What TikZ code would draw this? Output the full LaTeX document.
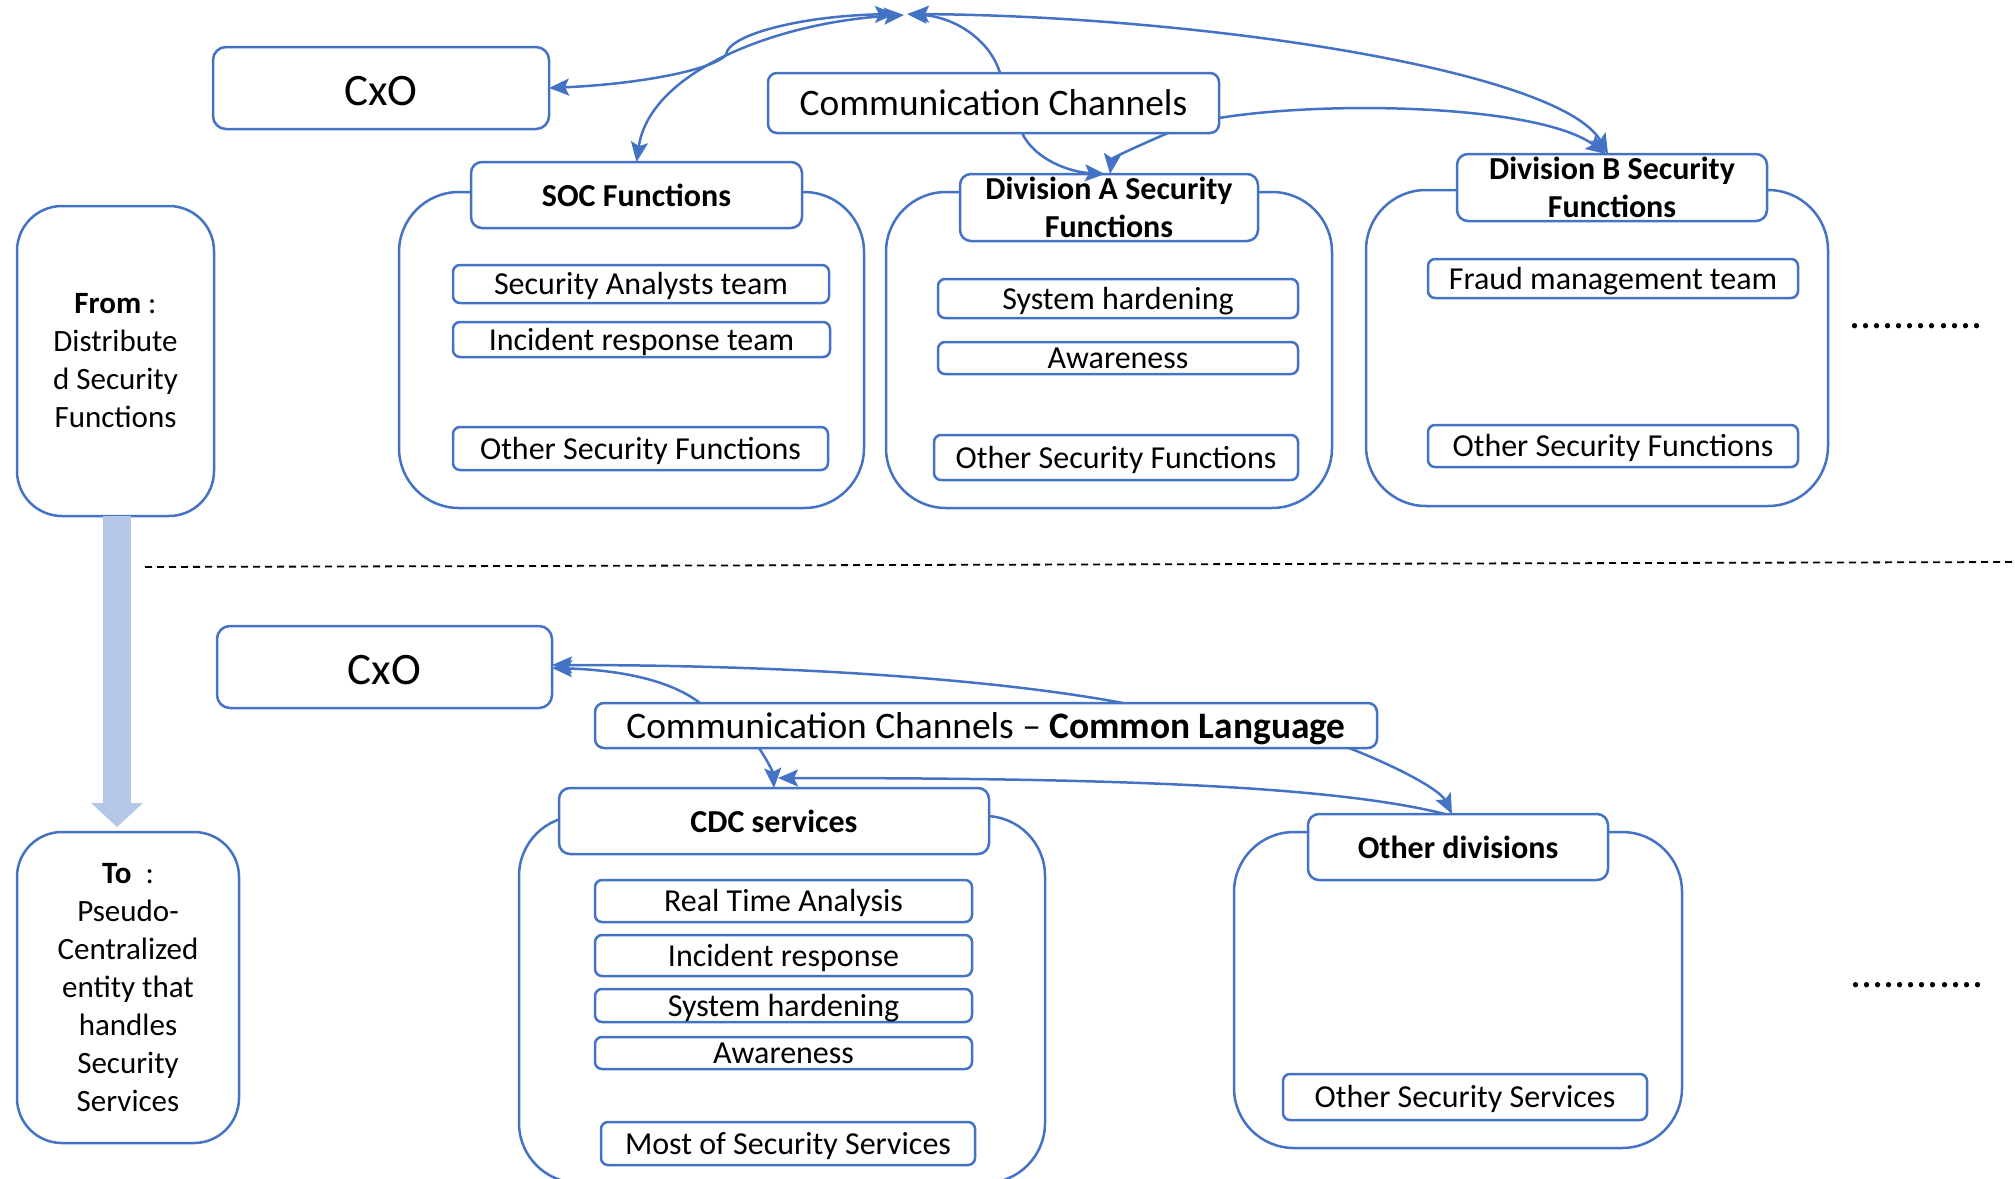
\documentclass[tikz,border=0pt]{standalone}
\usepackage{fontspec}
\setmainfont{Carlito}
\usetikzlibrary{arrows.meta}
\definecolor{edgeblue}{HTML}{4472C4}
\definecolor{flowblue}{HTML}{B4C7E7}
\tikzset{
  every node/.style={inner sep=0pt, outer sep=0pt},
  >={Stealth[length=20pt,width=17pt,inset=4pt]},
  cpanel/.style={draw=edgeblue, line width=2.5pt, rounded corners=60pt, fill=white},
  sidebox/.style={draw=edgeblue, line width=2.5pt, rounded corners=45pt, fill=white,
    align=center, font=\fontsize{31}{38}\selectfont},
  chead/.style={draw=edgeblue, line width=2.5pt, rounded corners=11pt, fill=white,
    align=center, font=\fontsize{32}{37.5}\selectfont\bfseries},
  citem/.style={draw=edgeblue, line width=2.5pt, rounded corners=7pt, fill=white,
    font=\fontsize{32}{38}\selectfont, text height=26.4pt, text depth=4.6pt},
  crole/.style={draw=edgeblue, line width=2.5pt, rounded corners=13pt, fill=white,
    font=\fontsize{45}{54}\selectfont, text height=38pt, text depth=4pt},
  cchan/.style={draw=edgeblue, line width=2.5pt, rounded corners=9pt, fill=white,
    font=\fontsize{37.4}{45}\selectfont, text height=30pt, text depth=4.8pt},
  clink/.style={draw=edgeblue, line width=2.5pt},
  cdots/.style={font=\fontsize{44}{50}\selectfont},
  separator/.style={draw=black, line width=1.8pt, dash pattern=on 7pt off 5pt},
  flowarrow/.style={draw=flowblue, line width=28pt,
    -{Triangle[width=52pt,length=24pt,line width=0pt]}},
}
\begin{document}
\begin{tikzpicture}[x=1pt, y=-1pt]
\useasboundingbox (0,0) rectangle (2015,1178);

% ---- left column: from / to ----
\node[sidebox, minimum width=197pt, minimum height=310pt] (fromB) at (115.5,361)
  {\textbf{From} :\\Distribute\\d Security\\Functions};
\node[sidebox, minimum width=222pt, minimum height=311pt] (toB) at (128,987.5)
  {\textbf{To}\ \ :\\Pseudo-\\Centralized\\entity that\\handles\\Security\\Services};
\draw[flowarrow, shorten >=5pt] ([xshift=1.5pt]fromB.south) -- ([xshift=1.5pt]fromB.south |- toB.north);

% ---- upper model: distributed functions ----
\node[cpanel, minimum width=465pt, minimum height=316pt] (socC) at (631.5,350) {};
\node[cpanel, minimum width=446pt, minimum height=316pt] (divAC) at (1109,350) {};
\node[cpanel, minimum width=462pt, minimum height=316pt] (divBC) at (1597,348) {};
\node[chead, minimum width=331pt, minimum height=66pt] (socH) at (636.5,195) {SOC Functions};
\node[chead, minimum width=298pt, minimum height=67pt] (divAH) at (1109,207.5) {Division A Security\\Functions};
\node[chead, minimum width=310pt, minimum height=67pt] (divBH) at (1612,187.5) {Division B Security\\Functions};

\node[citem, minimum width=376pt, minimum height=38pt] (soc1) at (641,284) {Security Analysts team};
\node[citem, minimum width=377pt, minimum height=35pt] (soc2) at (641.5,339.5) {Incident response team};
\node[citem, minimum width=375pt, minimum height=43pt] (soc3) at (640.5,448.5) {Other Security Functions};
\node[citem, minimum width=360pt, minimum height=39pt] (divA1) at (1118,298.5) {System hardening};
\node[citem, minimum width=360pt, minimum height=32pt] (divA2) at (1118,358) {Awareness};
\node[citem, minimum width=364pt, minimum height=45pt] (divA3) at (1116,457.5) {Other Security Functions};
\node[citem, minimum width=370pt, minimum height=39pt] (divB1) at (1613,278.5) {Fraud management team};
\node[citem, minimum width=370pt, minimum height=42pt] (divB2) at (1613,446) {Other Security Functions};

\node[crole, minimum width=336pt, minimum height=82pt] (cxoT) at (381,88) {CxO};
\node[cchan, minimum width=451pt, minimum height=60pt] (chanT) at (993.5,103) {Communication Channels};
\node[cdots, anchor=base] (moreT) at (1916,328) {............};

% meeting point of the upper links
\coordinate (hubA) at (895,14);
\coordinate (hubB) at (904,15);
\coordinate (hubC) at (907,14);
\coordinate (hubD) at (909,14);

\draw[clink, <->] (cxoT.east) .. controls (640,84) and (712,70) .. (726,55)
  .. controls (727,35) and (800,16) .. (hubA);
\draw[clink, <->] (socH.north) .. controls (650,70) and (780,22) .. (hubB);
\draw[clink, ->] ([xshift=6.5pt]chanT.north) .. controls (990,40) and (955,17) .. (hubC);
\draw[clink, <->] (hubD) .. controls (1200,16) and (1560,70) .. ([xshift=-4pt]divBH.north);
\draw[clink, ->] ([yshift=-15pt]chanT.east) .. controls (1330,100) and (1540,105) .. ([xshift=-6pt]divBH.north);
\draw[clink, ->] ([xshift=28.5pt]chanT.south) .. controls (1035,160) and (1070,172) .. ([xshift=-4pt]divAH.north);
\draw[clink, ->] ([xshift=174.5pt]chanT.south) .. controls (1140,145) and (1112,158) .. ([xshift=1pt]divAH.north);

% ---- separator ----
\draw[separator] (145,567) -- (2015,562);

% ---- lower model: pseudo-centralized services ----
\node[crole, minimum width=335pt, minimum height=82pt] (cxoB) at (384.5,667) {CxO};
\node[cchan, minimum width=782pt, minimum height=45pt] (chanB) at (986,725.5)
  {Communication Channels – \textbf{Common Language}};
\node[cpanel, minimum width=526pt, minimum height=367pt] (cdcC) at (782,999.5) {};
\node[cpanel, minimum width=448pt, minimum height=316pt] (odC) at (1458,990) {};
\node[chead, minimum width=430pt, minimum height=66pt] (cdcH) at (774,821) {CDC services};
\node[chead, minimum width=300pt, minimum height=66pt] (odH) at (1458,847) {Other divisions};

\node[citem, minimum width=377pt, minimum height=42pt] (cdc1) at (783.5,901) {Real Time Analysis};
\node[citem, minimum width=377pt, minimum height=41pt] (cdc2) at (783.5,955.5) {Incident response};
\node[citem, minimum width=377pt, minimum height=33pt] (cdc3) at (783.5,1005.5) {System hardening};
\node[citem, minimum width=377pt, minimum height=32pt] (cdc4) at (783.5,1053) {Awareness};
\node[citem, minimum width=374pt, minimum height=43pt] (cdc5) at (788,1143.5) {Most of Security Services};
\node[citem, minimum width=364pt, minimum height=46pt] (od1) at (1465,1097) {Other Security Services};
\node[cdots, anchor=base] (moreB) at (1917,987) {............};

\draw[clink, ->] ([xshift=-286pt]chanB.north) .. controls (670,680) and (620,670) .. ([yshift=-1pt]cxoB.east);
\draw[clink, ->] ([xshift=137pt]chanB.north) .. controls (1000,680) and (800,665) .. ([yshift=2pt]cxoB.east);
\draw[clink, ->] ([xshift=-227pt]chanB.south) .. controls (767,760) and (773,772) .. (cdcH.north);
\draw[clink, ->] ([xshift=-13pt]odH.north) .. controls (1330,785) and (1100,778) .. ([shift={(4pt,10pt)}]cdcH.north);
\draw[clink, ->] ([xshift=363pt]chanB.south) .. controls (1400,768) and (1440,790) .. ([xshift=-6pt]odH.north);
\end{tikzpicture}
\end{document}
